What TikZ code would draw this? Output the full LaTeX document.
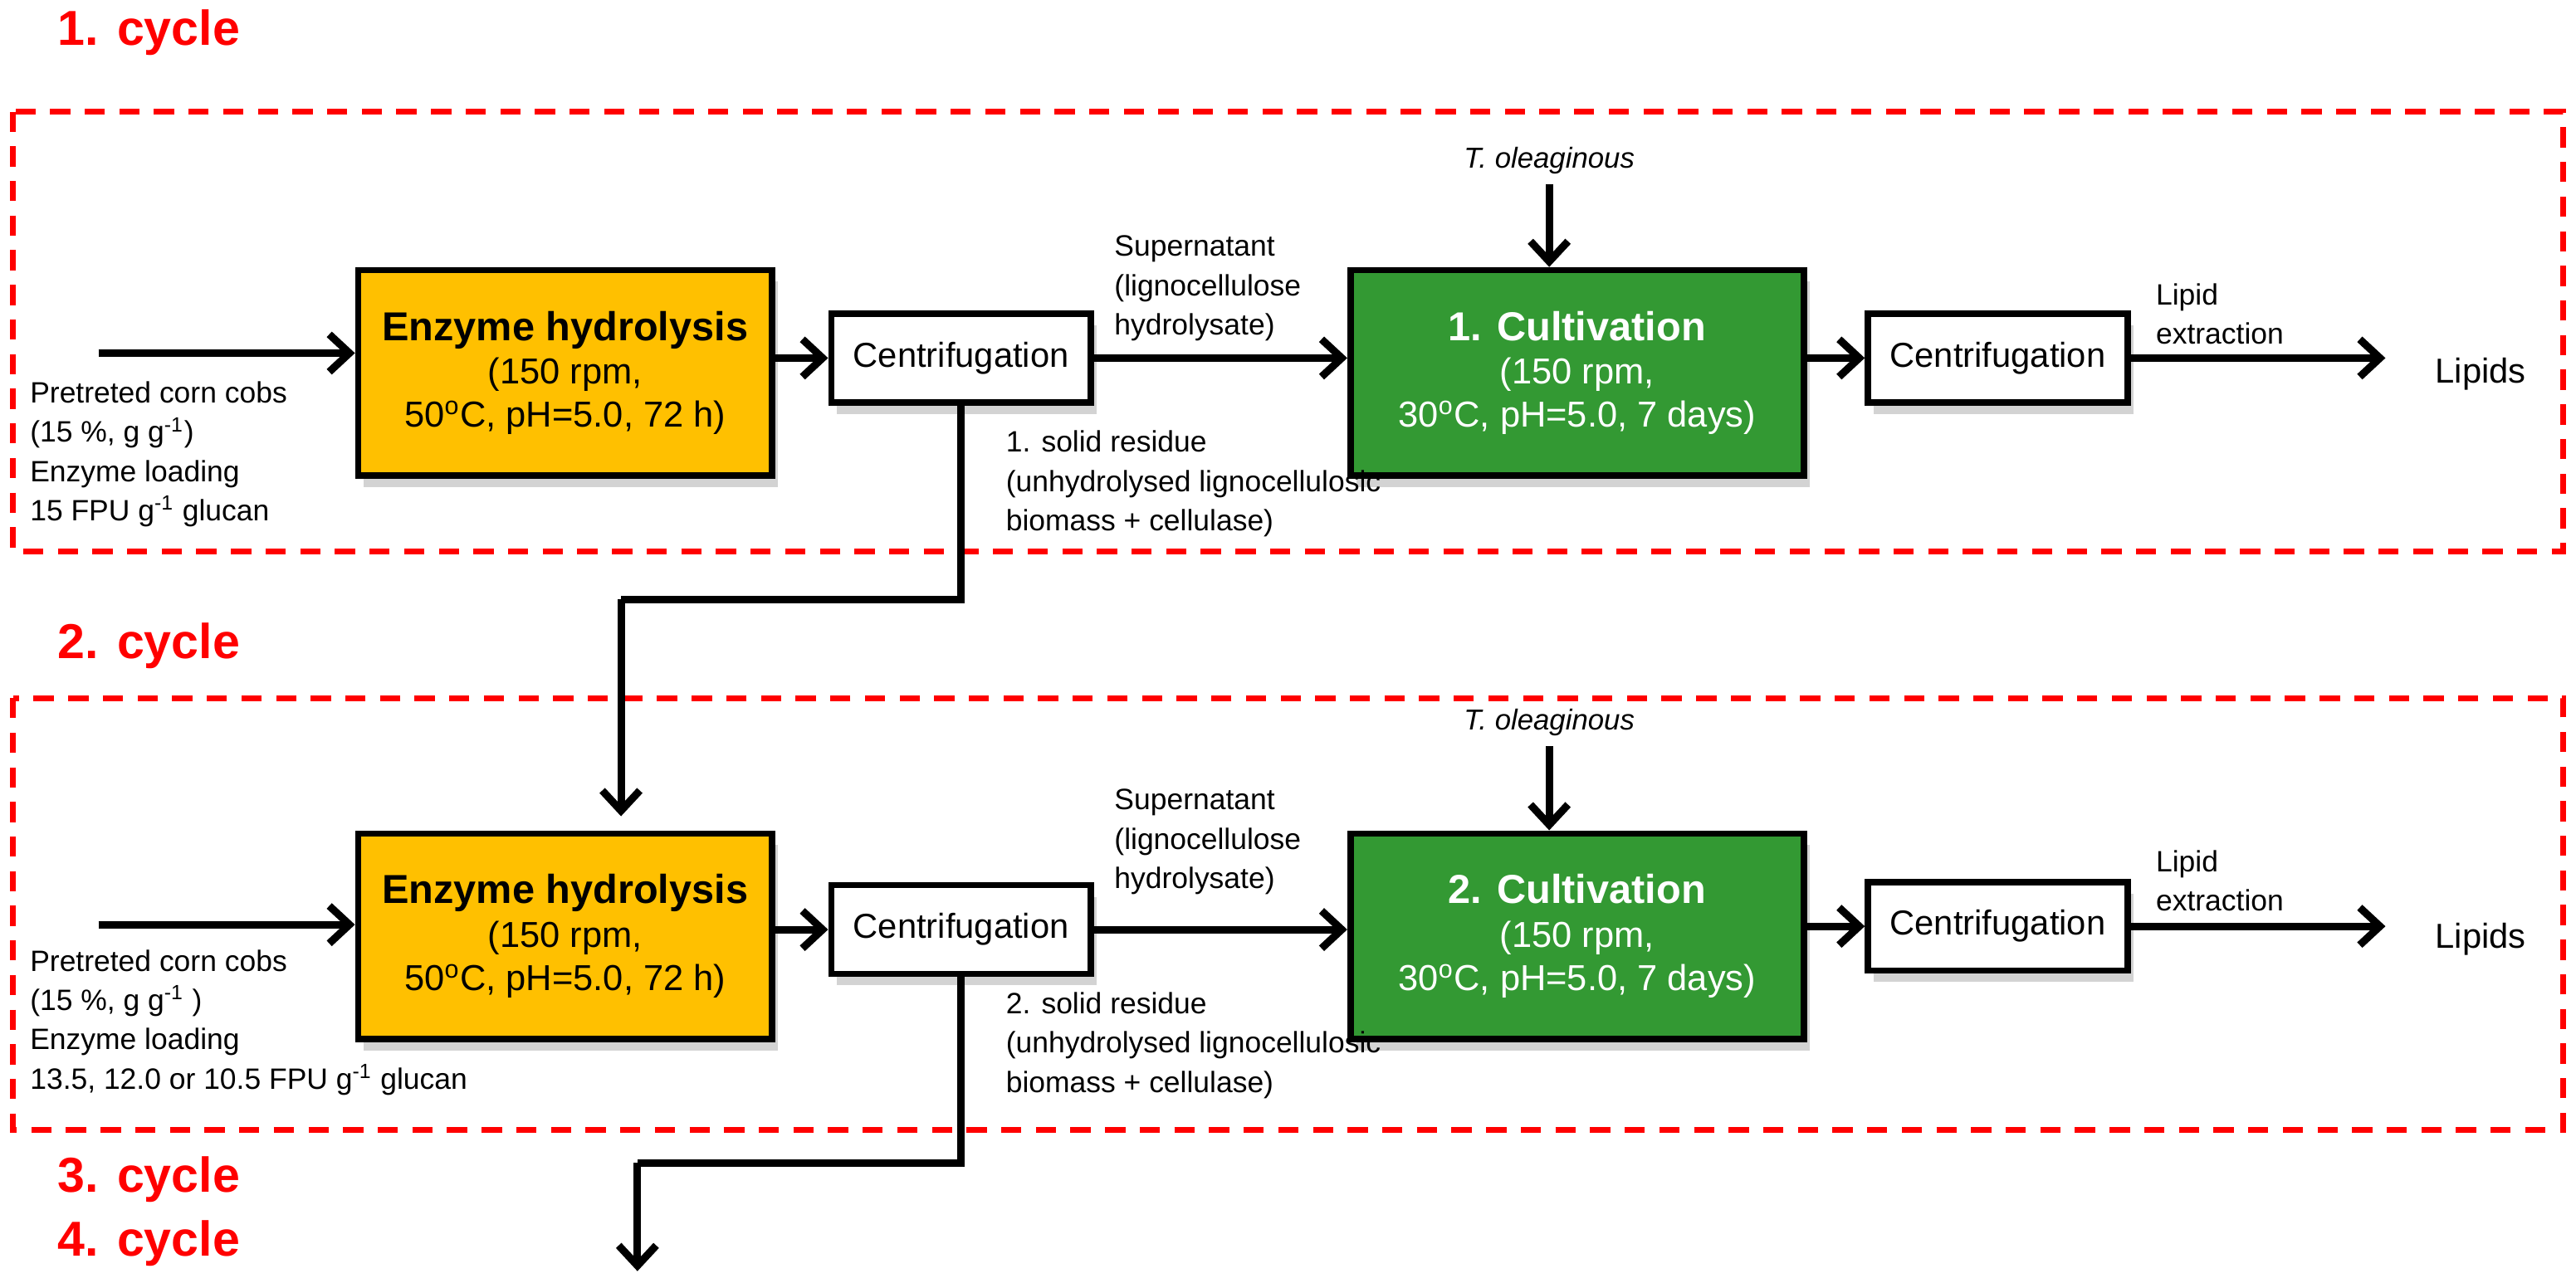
\documentclass[tikz,border=0pt]{standalone}
\usepackage{fontspec}
\setmainfont{Liberation Sans}
\usetikzlibrary{shadows,arrows.meta}
\begin{document}
\begin{tikzpicture}[x=0.02cm,y=-0.02cm,
 box/.style={draw=black,line width=2.2pt,align=center,inner sep=0pt,drop shadow={opacity=0.35,shadow xshift=2pt,shadow yshift=-4pt}},
 enz/.style={box,fill=orange1,minimum width=252*0.02cm,minimum height=125*0.02cm,font=\fontsize{12.5}{15}\selectfont},
 cult/.style={box,fill=green1,text=white,minimum width=276*0.02cm,minimum height=125*0.02cm,font=\fontsize{12.5}{15}\selectfont},
 cen/.style={box,fill=white,minimum width=158*0.02cm,minimum height=54*0.02cm,font=\fontsize{12}{14}\selectfont},
 arr/.style={line width=2.6pt,-{Straight Barb[length=7pt,width=13pt,line width=2.6pt]}},
 ln/.style={line width=2.6pt},
 lbl/.style={font=\fontsize{10.2}{13.6}\selectfont,align=left,inner sep=0pt},
 cyc/.style={text=red,font=\bfseries\fontsize{17}{20}\selectfont,anchor=west,inner sep=0pt},
 dbox/.style={draw=red,line width=2pt,dash pattern=on 7pt off 5pt}]
\definecolor{orange1}{HTML}{FFC000}
\definecolor{green1}{HTML}{339933}
\useasboundingbox (0,0) rectangle (1568,784);
\node[cyc] (c1) at (35,20) {1. cycle};
\node[cyc] (c2) at (35,393) {2. cycle};
\node[cyc] (c3) at (35,718) {3. cycle};
\node[cyc] (c4) at (35,757) {4. cycle};
\draw[dbox] (8,68) rectangle (1560,336);
\draw[dbox] (8,425) rectangle (1560,688);
% row 1
\coordinate (in1) at (60,215);
\node[enz] (e1) at (344,227) {\textbf{\fontsize{14}{17}\selectfont Enzyme hydrolysis}\\(150 rpm,\\50\textsuperscript{o}C, pH=5.0, 72 h)};
\node[cen] (z1) at (585,218) {Centrifugation};
\node[cult] (k1) at (960,227) {\textbf{\fontsize{14}{17}\selectfont 1. Cultivation}\\(150 rpm,\\30\textsuperscript{o}C, pH=5.0, 7 days)};
\node[cen] (y1) at (1216,218) {Centrifugation};
\node[font=\fontsize{12}{14}\selectfont] (l1) at (1510,228) {Lipids};
\coordinate (lo1) at (1452,218);
\node[font=\itshape\fontsize{10}{12}\selectfont] (t1) at (943,98) {T. oleaginous};
\draw[arr] (in1) -- (in1-|e1.west);
\draw[arr] (e1.east|-z1) -- (z1.west);
\draw[arr] (z1.east) -- (z1.east-|k1.west);
\draw[arr] (k1.east|-y1) -- (y1.west);
\draw[arr] (y1.east) -- (lo1);
\draw[arr] (t1.south) -- (t1.south|-k1.north);
\node[lbl,anchor=north west] (p1) at (18,232) {Pretreted corn cobs\\(15 \%, g g\textsuperscript{-1})\\Enzyme loading\\15 FPU g\textsuperscript{-1} glucan};
\node[lbl,anchor=south west] (s1) at (678,208) {Supernatant\\(lignocellulose\\hydrolysate)};
\node[lbl,anchor=south west] (x1) at (1312,210) {Lipid\\extraction};
\node[lbl,anchor=north west] (r1) at (612,262) {1. solid residue\\(unhydrolysed lignocellulosic\\biomass + cellulase)};
% row 2
\coordinate (in2) at (60,563);
\node[enz] (e2) at (344,570) {\textbf{\fontsize{14}{17}\selectfont Enzyme hydrolysis}\\(150 rpm,\\50\textsuperscript{o}C, pH=5.0, 72 h)};
\node[cen] (z2) at (585,566) {Centrifugation};
\node[cult] (k2) at (960,570) {\textbf{\fontsize{14}{17}\selectfont 2. Cultivation}\\(150 rpm,\\30\textsuperscript{o}C, pH=5.0, 7 days)};
\node[cen] (y2) at (1216,564) {Centrifugation};
\node[font=\fontsize{12}{14}\selectfont] (l2) at (1510,572) {Lipids};
\coordinate (lo2) at (1452,564);
\node[font=\itshape\fontsize{10}{12}\selectfont] (t2) at (943,440) {T. oleaginous};
\draw[arr] (in2) -- (in2-|e2.west);
\draw[arr] (e2.east|-z2) -- (z2.west);
\draw[arr] (z2.east) -- (z2.east-|k2.west);
\draw[arr] (k2.east|-y2) -- (y2.west);
\draw[arr] (y2.east) -- (lo2);
\draw[arr] (t2.south) -- (t2.south|-k2.north);
\node[lbl,anchor=north west] (p2) at (18,578) {Pretreted corn cobs\\(15 \%, g g\textsuperscript{-1} )\\Enzyme loading\\13.5, 12.0 or 10.5 FPU g\textsuperscript{-1} glucan};
\node[lbl,anchor=south west] (s2) at (678,545) {Supernatant\\(lignocellulose\\hydrolysate)};
\node[lbl,anchor=south west] (x2) at (1312,555) {Lipid\\extraction};
\node[lbl,anchor=north west] (r2) at (612,604) {2. solid residue\\(unhydrolysed lignocellulosic\\biomass + cellulase)};
% recycle
\coordinate (a1) at (585,365); \coordinate (a2) at (378,365); \coordinate (a3) at (378,497);
\draw[ln] (z1.south) -- (a1) -- (a2);
\draw[arr] (a2) -- (a3);
\coordinate (b1) at (585,708); \coordinate (b2) at (388,708); \coordinate (b3) at (388,774);
\draw[ln] (z2.south) -- (b1) -- (b2);
\draw[arr] (b2) -- (b3);
\end{tikzpicture}
\end{document}
